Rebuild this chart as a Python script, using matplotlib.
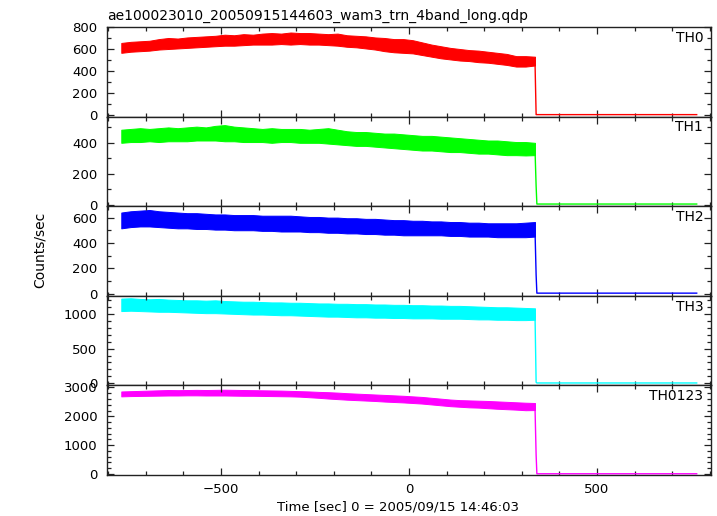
import numpy as np
import matplotlib
matplotlib.use('Agg')
import matplotlib.pyplot as plt
from matplotlib.ticker import MultipleLocator

plt.rcParams['font.family'] = ['DejaVu Sans']
plt.rcParams['font.size'] = 9.5

# time bins (sec from 2005/09/15 14:46:03), before the drop
t = [-765, -740, -715, -690, -665, -640, -615, -590, -565, -540, -515,
     -490, -465, -440, -415, -390, -365, -340, -315, -290, -265, -240,
     -215, -190, -165, -140, -115, -90, -65, -40, -15, 10, 35, 60, 85,
     110, 135, 160, 185, 210, 235, 260, 285, 310, 335]

# upper / lower edge of the noisy band
th0_hi = [655, 665, 670, 675, 690, 700, 695, 705, 710, 715, 720, 730, 725,
          735, 730, 740, 745, 740, 750, 745, 745, 740, 735, 740, 725, 720,
          715, 705, 700, 690, 690, 680, 660, 640, 625, 610, 600, 590, 585,
          575, 565, 555, 535, 535, 530]
th0_lo = [565, 575, 580, 585, 595, 600, 605, 610, 615, 620, 625, 630, 630,
          635, 640, 640, 640, 645, 640, 645, 640, 640, 635, 630, 620, 615,
          605, 595, 580, 570, 565, 560, 545, 530, 515, 505, 495, 490, 480,
          475, 465, 455, 440, 440, 450]

th1_hi = [485, 490, 495, 490, 495, 500, 495, 500, 505, 500, 510, 515, 505,
          500, 495, 490, 495, 490, 490, 490, 485, 490, 495, 485, 475, 470,
          470, 465, 460, 460, 455, 450, 445, 445, 440, 435, 430, 425, 420,
          415, 415, 410, 405, 405, 400]
th1_lo = [400, 405, 405, 410, 405, 410, 410, 410, 415, 415, 415, 410, 410,
          405, 405, 405, 400, 405, 405, 400, 400, 400, 395, 390, 385, 380,
          380, 375, 370, 365, 360, 355, 350, 350, 345, 340, 340, 335, 330,
          330, 325, 320, 320, 318, 320]

th2_hi = [640, 650, 655, 660, 650, 645, 640, 635, 635, 630, 625, 625, 620,
          620, 620, 615, 615, 615, 615, 610, 605, 605, 600, 600, 595, 595,
          590, 590, 585, 580, 580, 575, 575, 570, 570, 565, 565, 560, 560,
          555, 555, 555, 555, 560, 565]
th2_lo = [515, 525, 530, 530, 525, 520, 515, 515, 510, 510, 505, 505, 500,
          500, 500, 495, 495, 490, 490, 490, 485, 485, 480, 480, 475, 475,
          470, 470, 465, 465, 460, 460, 460, 460, 460, 455, 455, 450, 450,
          450, 445, 445, 445, 445, 450]

th3_hi = [1220, 1225, 1215, 1210, 1215, 1205, 1200, 1195, 1195, 1190, 1195,
          1185, 1180, 1175, 1175, 1170, 1165, 1165, 1160, 1160, 1155, 1150,
          1150, 1145, 1145, 1140, 1140, 1135, 1135, 1130, 1130, 1125, 1125,
          1120, 1120, 1115, 1115, 1110, 1105, 1100, 1095, 1095, 1090, 1085,
          1080]
th3_lo = [1040, 1045, 1040, 1035, 1030, 1030, 1025, 1020, 1015, 1010, 1010,
          1005, 1000, 995, 990, 990, 985, 980, 980, 975, 970, 965, 960, 960,
          955, 950, 950, 945, 945, 940, 940, 935, 935, 935, 930, 930, 930,
          925, 920, 920, 915, 915, 910, 910, 915]

thall_hi = [2860, 2870, 2880, 2890, 2900, 2910, 2905, 2910, 2915, 2910, 2915,
            2920, 2915, 2910, 2905, 2900, 2895, 2890, 2880, 2870, 2860, 2845,
            2835, 2820, 2800, 2785, 2770, 2755, 2740, 2725, 2710, 2690, 2670,
            2640, 2610, 2580, 2560, 2550, 2540, 2530, 2515, 2500, 2485, 2470,
            2460]
thall_lo = [2690, 2700, 2705, 2710, 2715, 2720, 2720, 2725, 2725, 2720, 2720,
            2720, 2715, 2710, 2710, 2705, 2700, 2695, 2690, 2680, 2660, 2640,
            2615, 2595, 2575, 2560, 2545, 2530, 2510, 2495, 2480, 2460, 2440,
            2410, 2380, 2350, 2330, 2310, 2300, 2280, 2260, 2245, 2230, 2210,
            2215]

# after the drop: drop time, end time, transient value, residual level
t_drop = [335, 338, 340, 765]
th0_tail = [490, 3, 3, 3]
th1_tail = [360, 120, 3, 3]
th2_tail = [505, 147, 3, 3]
th3_tail = [1000, 15, 5, 5]
thall_tail = [2330, 660, 8, 8]

panels = [
    ('TH0', th0_hi, th0_lo, th0_tail, 'red', (-15, 800), 200, 100),
    ('TH1', th1_hi, th1_lo, th1_tail, '#00ff00', (-11, 570), 200, 100),
    ('TH2', th2_hi, th2_lo, th2_tail, 'blue', (-18, 690), 200, 100),
    ('TH3', th3_hi, th3_lo, th3_tail, 'cyan', (-30, 1260), 500, 100),
    ('TH0123', thall_hi, thall_lo, thall_tail, 'magenta', (-35, 3070), 1000, 200),
]

fig = plt.figure(figsize=(7.17, 5.16), dpi=100)
gs = fig.add_gridspec(5, 1, left=107/717, right=711/717,
                      top=1-27/516, bottom=1-475/516, hspace=0)

axes = []
for i, (name, hi, lo, tail, col, ylim, major, minor) in enumerate(panels):
    ax = fig.add_subplot(gs[i])
    ax.fill_between(t, lo, hi, color=col, lw=0.7, edgecolor=col)
    ax.plot(t_drop, tail, color=col, lw=1.0)
    ax.set_xlim(-803, 803)
    ax.set_ylim(*ylim)
    ax.xaxis.set_major_locator(MultipleLocator(500))
    ax.xaxis.set_minor_locator(MultipleLocator(100))
    ax.yaxis.set_major_locator(MultipleLocator(major))
    ax.yaxis.set_minor_locator(MultipleLocator(minor))
    ax.tick_params(which='both', direction='in', top=True, right=True,
                   width=0.9, color='#222222', labelcolor='black')
    ax.tick_params(which='major', length=5)
    ax.tick_params(which='minor', length=3)
    ax.tick_params(axis='y', pad=7)
    ax.tick_params(axis='x', pad=6)
    for sp in ax.spines.values():
        sp.set_linewidth(1.0)
        sp.set_color('#222222')
    ax.text(0.987, 0.88, name, transform=ax.transAxes, ha='right',
            va='center', fontsize=10)
    if i < 4:
        ax.tick_params(labelbottom=False)
    axes.append(ax)

axes[0].set_title('ae100023010_20050915144603_wam3_trn_4band_long.qdp',
                  loc='left', pad=5, fontsize=10)
fig.text(40/717, 0.515, 'Counts/sec', rotation=90, ha='center', va='center',
         fontsize=10)
fig.text(398/717, 1-507/516, 'Time [sec] 0 = 2005/09/15 14:46:03',
         ha='center', va='center')

fig.savefig('out.png', dpi=100)
